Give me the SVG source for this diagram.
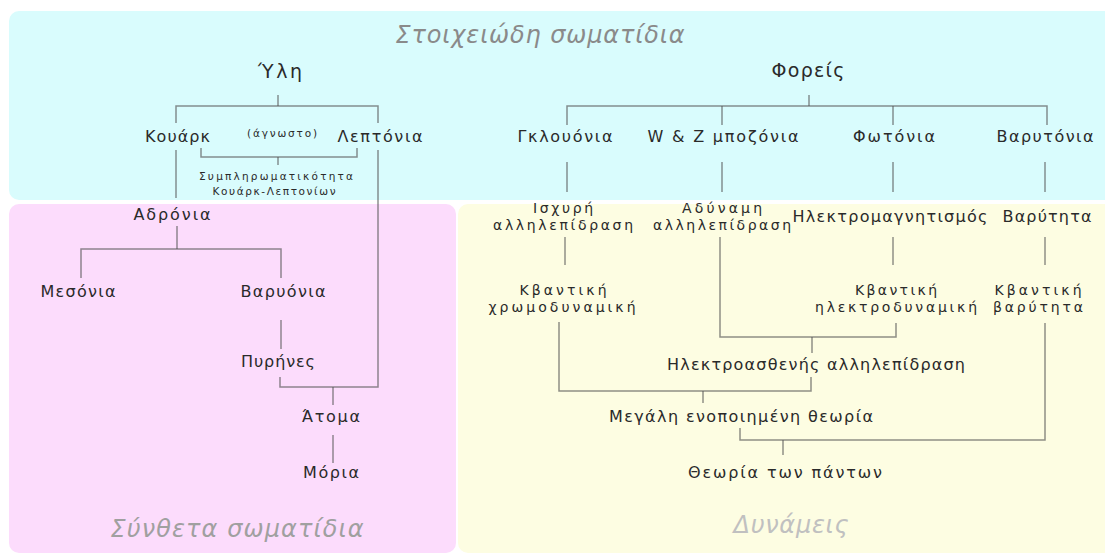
<svg xmlns="http://www.w3.org/2000/svg" width="1105" height="556" viewBox="0 0 1105 556">
<style>
.t{font-family:"DejaVu Sans","Liberation Sans",sans-serif;font-size:16px;fill:#2a2a2a;text-anchor:middle}
.m{font-size:14px}
.b{font-size:19px}
.s{font-size:10.5px}
.h{font-family:"DejaVu Sans","Liberation Sans",sans-serif;font-size:24px;font-style:italic;text-anchor:middle}
.c line,.c polyline{stroke:#555;stroke-opacity:0.65;stroke-width:1.5;fill:none}
</style>
<rect width="1105" height="556" fill="#fff"/>
<g id="regions">
<rect x="9" y="11" width="1110" height="189" rx="10" fill="#d9fcfd"/>
<rect x="9" y="204" width="447" height="349" rx="10" fill="#fcdcfc"/>
<rect x="458" y="204" width="660" height="349" rx="10" fill="#fdfde2"/>
</g>
<g class="c" id="connectors">
<line x1="278" y1="95" x2="278" y2="106"/>
<polyline points="176,123 176,106 378,106 378,123"/>
<polyline points="201,148 201,157 357,157 357,148"/>
<line x1="278" y1="157" x2="278" y2="165"/>
<line x1="176" y1="150" x2="176" y2="198"/>
<polyline points="378,150 378,387 280,387 280,377"/>
<line x1="177" y1="226" x2="177" y2="249"/>
<polyline points="81,278 81,249 281,249 281,278"/>
<line x1="281" y1="320" x2="281" y2="349"/>
<line x1="333" y1="387" x2="333" y2="405"/>
<line x1="333" y1="435" x2="333" y2="463"/>
<line x1="809" y1="95" x2="809" y2="106"/>
<polyline points="567,125 567,106 1047,106 1047,125"/>
<line x1="722" y1="106" x2="722" y2="125"/>
<line x1="893" y1="106" x2="893" y2="125"/>
<line x1="567" y1="162" x2="567" y2="192"/>
<line x1="722" y1="162" x2="722" y2="192"/>
<line x1="893" y1="162" x2="893" y2="192"/>
<line x1="1045" y1="162" x2="1045" y2="192"/>
<line x1="565" y1="237" x2="565" y2="265"/>
<line x1="893" y1="237" x2="893" y2="265"/>
<line x1="1045" y1="237" x2="1045" y2="265"/>
<polyline points="720,237 720,337 896,337 896,323"/>
<line x1="812" y1="337" x2="812" y2="353"/>
<polyline points="559,322 559,391 811,391 811,377"/>
<line x1="703" y1="391" x2="703" y2="403"/>
<polyline points="740,428 740,440 1045,440 1045,323"/>
<line x1="783" y1="440" x2="783" y2="455"/>
</g>
<g id="titles">
<text class="h" x="540" y="43" fill="#8a8a8a" textLength="289">Στοιχειώδη σωματίδια</text>
<text class="h" x="237" y="537" fill="#a0a0a0" textLength="253">Σύνθετα σωματίδια</text>
<text class="h" x="791" y="533" fill="#c0c0c0" textLength="115">Δυνάμεις</text>
</g>
<g id="n-yli"><text class="t b" x="280" y="78" textLength="44">Ύλη</text></g>
<g id="n-foreis"><text class="t b" x="808" y="77" textLength="73">Φορείς</text></g>
<g id="n-kouark"><text class="t" x="177.5" y="142" textLength="65">Κουάρκ</text></g>
<g id="n-agnosto"><text class="t s" x="282" y="137" textLength="70">(άγνωστο)</text></g>
<g id="n-leptonia"><text class="t" x="380" y="142" textLength="85">Λεπτόνια</text></g>
<g id="n-symplir"><text class="t s"><tspan x="276" y="180" textLength="154">Συμπληρωματικότητα</tspan><tspan x="274" y="195" textLength="123">Κουάρκ-Λεπτονίων</tspan></text></g>
<g id="n-gklouonia"><text class="t" x="565" y="142" textLength="95">Γκλουόνια</text></g>
<g id="n-wz"><text class="t" x="723" y="142" textLength="151">W &amp; Z μποζόνια</text></g>
<g id="n-fotonia"><text class="t" x="894" y="142" textLength="82">Φωτόνια</text></g>
<g id="n-varytonia"><text class="t" x="1045" y="142" textLength="97">Βαρυτόνια</text></g>
<g id="n-adronia"><text class="t" x="172" y="220" textLength="77">Αδρόνια</text></g>
<g id="n-mesonia"><text class="t" x="78" y="297" textLength="75">Μεσόνια</text></g>
<g id="n-varyonia"><text class="t" x="283" y="297" textLength="85">Βαρυόνια</text></g>
<g id="n-pyrines"><text class="t" x="278" y="367" textLength="74">Πυρήνες</text></g>
<g id="n-atoma"><text class="t" x="331" y="422" textLength="58">Άτομα</text></g>
<g id="n-moria"><text class="t" x="331" y="478" textLength="56">Μόρια</text></g>
<g id="n-ischyri"><text class="t m" x="563" y="213" textLength="60">Ισχυρή</text><text class="t m" x="563" y="230" textLength="140">αλληλεπίδραση</text></g>
<g id="n-adynami"><text class="t m" x="722" y="213" textLength="80">Αδύναμη</text><text class="t m" x="722" y="230" textLength="138">αλληλεπίδραση</text></g>
<g id="n-ilektromag"><text class="t" x="890" y="222" textLength="195">Ηλεκτρομαγνητισμός</text></g>
<g id="n-varytita"><text class="t" x="1047" y="222" textLength="89">Βαρύτητα</text></g>
<g id="n-qcd"><text class="t m" x="563" y="295" textLength="87">Κβαντική</text><text class="t m" x="562" y="312" textLength="147">χρωμοδυναμική</text></g>
<g id="n-qed"><text class="t m" x="896" y="295" textLength="82">Κβαντική</text><text class="t m" x="896" y="312" textLength="162">ηλεκτροδυναμική</text></g>
<g id="n-qg"><text class="t m" x="1038" y="295" textLength="87">Κβαντική</text><text class="t m" x="1038" y="312" textLength="90">βαρύτητα</text></g>
<g id="n-electroweak"><text class="t" x="816" y="370" textLength="298">Ηλεκτροασθενής αλληλεπίδραση</text></g>
<g id="n-gut"><text class="t" x="741" y="422" textLength="264">Μεγάλη ενοποιημένη θεωρία</text></g>
<g id="n-toe"><text class="t" x="785" y="478" textLength="194">Θεωρία των πάντων</text></g>
</svg>
